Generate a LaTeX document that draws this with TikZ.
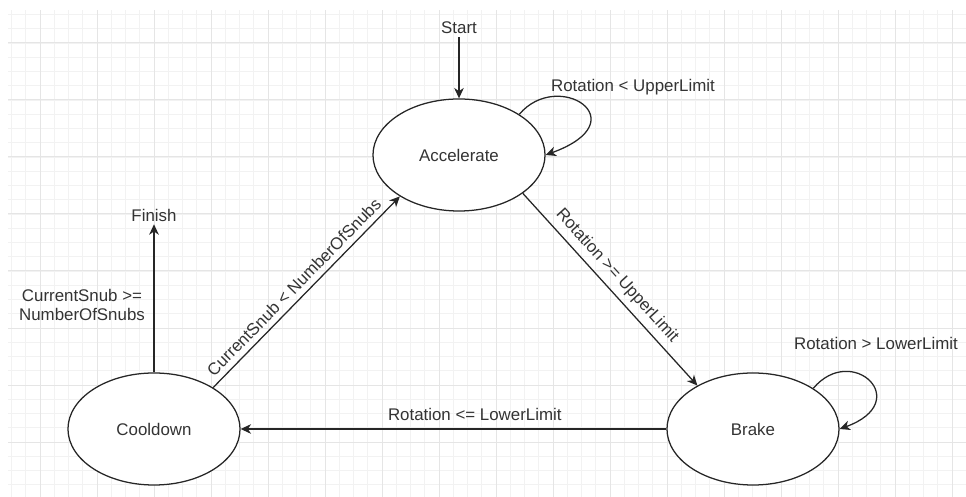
\documentclass[tikz,border=0pt]{standalone}
\usepackage{fontspec}
\setmainfont{Liberation Sans}
\usepackage{tikz}
\usetikzlibrary{arrows.meta,shapes.geometric}
\tikzset{
  statebox/.style={ellipse, draw=black!85, line width=0.9pt, fill=white,
                   minimum width=4.3cm, minimum height=2.8cm, inner sep=0pt,
                   font=\fontsize{12}{14}\selectfont, text=black!80},
  statearr/.style={-{Stealth[length=2.6mm,width=2.4mm,inset=0.8mm]}, draw=black!85, line width=0.9pt},
  statelab/.style={font=\fontsize{12}{14}\selectfont, text=black!80, align=center, inner sep=2pt},
  gridminor/.style={draw=black!5, line width=0.4pt},
  gridmajor/.style={draw=black!10, line width=0.7pt},
}
\begin{document}
\begin{tikzpicture}[x=0.025cm,y=0.025cm]
\useasboundingbox (0,0) rectangle (966,497);
% canvas grid
\begin{scope}
\clip (8,0) rectangle (966,487);
\foreach \i in {0,...,67} \draw[gridminor] (11.5+\i*14.25,0) -- ++(0,487);
\foreach \j in {0,...,33} \draw[gridminor] (8,12.25+\j*14.25) -- ++(958,0);
\foreach \i in {0,...,16} \draw[gridmajor] (40+\i*57,0) -- ++(0,487);
\foreach \j in {0,...,7} \draw[gridmajor] (8,55+\j*57) -- ++(958,0);
\end{scope}
% states
\node[statebox] (acc) at (459,342) {Accelerate};
\node[statebox] (cool) at (154,68) {Cooldown};
\node[statebox] (brake) at (753,68) {Brake};
\node[statelab] (start) at (459,469) {Start};
\node[statelab] (finish) at (154,282) {Finish};
\node[statelab] (snubdone) at (82,192) {CurrentSnub >=\\NumberOfSnubs};
\node[statelab] (accloop) at (633,410) {Rotation < UpperLimit};
\node[statelab] (brakeloop) at (876,154) {Rotation > LowerLimit};
% transitions
\draw[statearr] (start) -- (acc);
\draw[statearr] (cool) -- (finish);
\draw[statearr] (acc.-31) -- node[statelab, sloped, above=2pt, pos=0.48]{Rotation >= UpperLimit} (brake.142);
\draw[statearr] (brake) -- node[statelab, above=3.5pt, pos=0.45]{Rotation <= LowerLimit} (cool);
\draw[statearr] (cool.35) -- node[statelab, sloped, above=2pt, pos=0.48]{CurrentSnub < NumberOfSnubs} (acc.215);
\draw[statearr] (acc.34) .. controls +(50:60) and +(20:100) .. (acc.east);
\draw[statearr] (brake.34) .. controls +(50:60) and +(20:80) .. (brake.east);
\end{tikzpicture}
\end{document}
